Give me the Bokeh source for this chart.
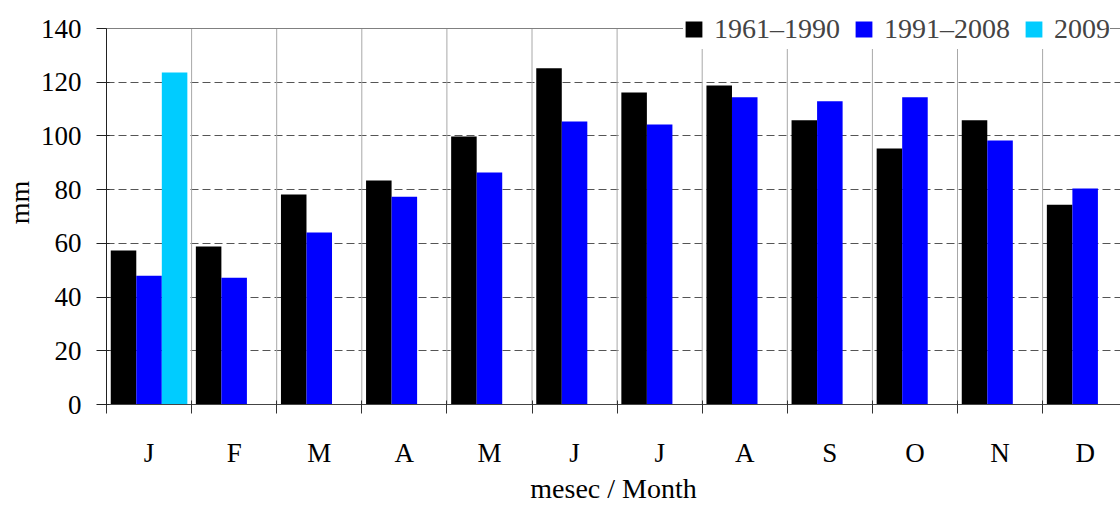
from bokeh.plotting import figure
from bokeh.models import (ColumnDataSource, Range1d, FixedTicker, Span, Legend, LegendItem)
from bokeh.transform import dodge
from bokeh.embed import file_html
from bokeh.resources import INLINE

# ---- data ----
months = ["J", "F", "M", "A", "M", "J", "J", "A", "S", "O", "N", "D"]
p_1961_1990 = [57.3, 58.8, 78.2, 83.4, 99.8, 125.2, 116.2, 118.8, 105.8, 95.3, 105.8, 74.4]
p_1991_2008 = [47.9, 47.2, 64.0, 77.4, 86.4, 105.4, 104.3, 114.4, 112.9, 114.4, 98.3, 80.4]
p_2009 = [123.6]  # January only
series_labels = ["1961–1990", "1991–2008", "2009"]
y_ticks = [0, 20, 40, 60, 80, 100, 120, 140]
x_title = "mesec / Month"
y_title = "mm"

# ---- layout constants ----
W, H = 1120, 506
LEFT, BOTTOM = 106, 102
PLOT_TOP_PX = 28          # pixel row of the top (140) line
CAT_PX = 85.1
FONT = "Liberation Serif"

y_max = y_ticks[-1]
frame_h = H - BOTTOM
px_per_unit = (frame_h - PLOT_TOP_PX) / y_max
y_end = y_max + PLOT_TOP_PX / px_per_unit   # extra room above for the legend

centers = [i + 0.5 for i in range(len(months))]
bounds = list(range(1, len(months)))
src = ColumnDataSource(dict(x=centers, a=p_1961_1990, b=p_1991_2008))
src09 = ColumnDataSource(dict(x=centers[:len(p_2009)], c=p_2009))

x_end = (W - LEFT) / CAT_PX
p = figure(width=W, height=H, output_backend="svg", toolbar_location=None,
           x_range=Range1d(0, x_end), y_range=Range1d(0, y_end),
           min_border_left=LEFT, min_border_right=0, min_border_top=0,
           min_border_bottom=BOTTOM)
p.background_fill_color = "white"
p.border_fill_color = "white"
p.outline_line_color = None

# grids
p.ygrid.ticker = FixedTicker(ticks=y_ticks[1:-1])
p.ygrid.grid_line_color = "#555555"
p.ygrid.grid_line_dash = "8 4"
p.ygrid.grid_line_width = 1
p.xgrid.visible = False
p.segment(x0=bounds, x1=bounds, y0=[0] * len(bounds), y1=[y_max] * len(bounds),
          line_color="#a8a8a8", line_width=1)
p.add_layout(Span(location=y_max, dimension="width", line_color="#808080", line_width=1))

bw = 0.3
r1 = p.vbar(x=dodge("x", -bw, range=p.x_range), top="a", width=bw, source=src,
            fill_color="#000000", line_color=None)
r2 = p.vbar(x=dodge("x", 0, range=p.x_range), top="b", width=bw, source=src,
            fill_color="#0000FF", line_color=None)
r3 = p.vbar(x=dodge("x", bw, range=p.x_range), top="c", width=bw, source=src09,
            fill_color="#00CCFF", line_color=None)

# x axis
xa = p.xaxis[0]
xa.ticker = FixedTicker(ticks=centers, minor_ticks=list(range(len(months) + 1)))
xa.major_label_overrides = {c: m for c, m in zip(centers, months)}
xa.major_tick_line_color = None
xa.major_tick_out = 0
xa.major_tick_in = 0
xa.minor_tick_line_color = "#333333"
xa.minor_tick_out = 9
xa.minor_tick_in = 4
xa.axis_line_color = "#444444"
xa.major_label_standoff = 24
xa.major_label_text_font = FONT
xa.major_label_text_font_size = "27px"
xa.major_label_text_color = "black"
xa.axis_label = x_title
xa.axis_label_standoff = 2
xa.axis_label_text_font = FONT
xa.axis_label_text_font_size = "28px"
xa.axis_label_text_font_style = "normal"
xa.axis_label_text_color = "black"

# y axis
ya = p.yaxis[0]
ya.ticker = FixedTicker(ticks=y_ticks)
ya.bounds = (0, y_max)
ya.major_tick_out = 10
ya.major_tick_in = 3
ya.major_tick_line_color = "#222222"
ya.minor_tick_line_color = None
ya.axis_line_color = "#222222"
ya.major_label_standoff = 15
ya.major_label_text_font = FONT
ya.major_label_text_font_size = "27px"
ya.major_label_text_color = "black"
ya.axis_label = y_title
ya.axis_label_standoff = 3
ya.axis_label_text_font = FONT
ya.axis_label_text_font_size = "28px"
ya.axis_label_text_font_style = "normal"
ya.axis_label_text_color = "black"

legend = Legend(items=[LegendItem(label=series_labels[0], renderers=[r1]),
                       LegendItem(label=series_labels[1], renderers=[r2]),
                       LegendItem(label=series_labels[2], renderers=[r3])],
                orientation="horizontal", location=(577, 355),
                background_fill_color="white", background_fill_alpha=1.0,
                border_line_color=None, label_text_font=FONT,
                label_text_font_size="28px", glyph_width=21, glyph_height=20,
                label_height=40, label_standoff=10, spacing=13, padding=4, margin=0)
p.add_layout(legend)

open("out.html", "w").write(file_html(p, INLINE))
